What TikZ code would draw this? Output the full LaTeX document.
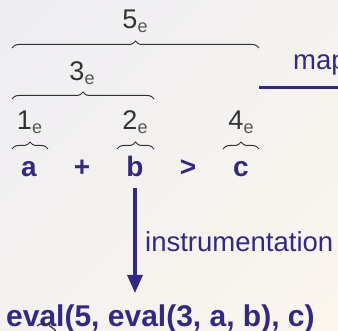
\documentclass[tikz,border=0pt]{standalone}
\usepackage{fontspec}
\setmainfont{Liberation Sans}
\usetikzlibrary{decorations.pathreplacing,arrows.meta}
\definecolor{ind}{HTML}{33297F}
\definecolor{bgA}{HTML}{EEEDF2}
\definecolor{bgB}{HTML}{FAF6EE}
\definecolor{brc}{HTML}{333333}
\definecolor{sub}{HTML}{555555}
\newcommand{\lab}[1]{{\fontsize{27}{27}\selectfont\color{brc}#1}{\fontsize{18}{18}\selectfont\color{sub}\raisebox{-4pt}{e}}}
\tikzset{
  lbl/.style={anchor=base,inner sep=0pt},
  sym/.style={anchor=base,inner sep=0pt,text=ind,font=\fontsize{28}{28}\selectfont\bfseries},
  brc/.style={draw=brc,line width=1pt,decorate,decoration={brace,amplitude=7pt}},
  ann/.style={anchor=base west,inner sep=0pt,text=ind,font=\fontsize{27.5}{27.5}\selectfont},
}
\begin{document}
\begin{tikzpicture}[x=1pt,y=-1pt]
\useasboundingbox (0,0) rectangle (338,331);
\shade[top color=bgA,bottom color=bgB,shading angle=45] (-60,-60) rectangle (398,391);
\clip (0,0) rectangle (338,331);
% labels
\node[lbl] (l5) at (135,29) {\lab{5}};
\node[lbl] (l3) at (82,81) {\lab{3}};
\node[lbl] (l1) at (29.5,130) {\lab{1}};
\node[lbl] (l2) at (135,130) {\lab{2}};
\node[lbl] (l4) at (241,130) {\lab{4}};
% braces
\draw[brc] (12,48) -- (259,48);
\draw[brc] (12,99) -- (154,99);
\draw[brc] (12,149) -- (48,149);
\draw[brc] (117,149) -- (154,149);
\draw[brc] (223,149) -- (259,149);
% expression
\node[sym] (a) at (29,177) {a};
\node[sym] (plus) at (82,177) {+};
\node[sym] (b) at (135,177) {b};
\node[sym] (gt) at (188,177) {>};
\node[sym] (c) at (241,177) {c};
% map
\node[ann] (map) at (293,70) {map};
\coordinate (m1) at (259,87.5);
\coordinate (m2) at (345,87.5);
\draw[ind,line width=3.5pt] (m1) -- (m2);
% instrumentation arrow
\coordinate (s1) at (135,188);
\coordinate (s2) at (135,293);
\draw[ind,line width=3.2pt,-{Triangle[width=15pt,length=18pt]}] (s1) -- (s2);
\node[ann] (instr) at (145,252) {instrumentation};
% result
\node[ann,font=\fontsize{30}{30}\selectfont\bfseries] (ev) at (6,327) {eval(5, eval(3, a, b), c)};
\coordinate (t1) at (37,326);
\coordinate (t2) at (56,333);
\draw[brc,line width=1.2pt] (t1) -- (t2);
\end{tikzpicture}
\end{document}
